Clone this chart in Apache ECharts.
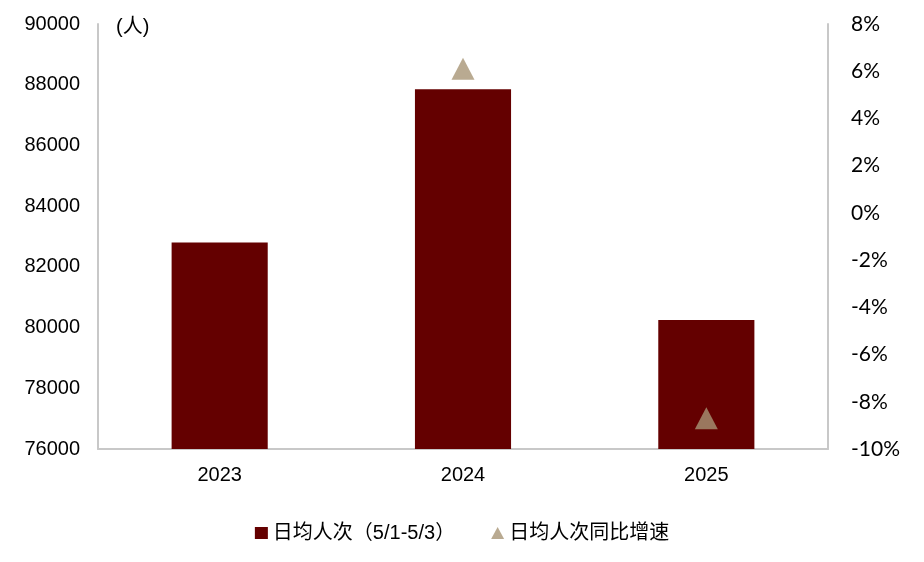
<!DOCTYPE html>
<html><head><meta charset="utf-8">
<script src="https://cdn.jsdelivr.net/npm/echarts@6/dist/echarts.min.js"></script>
<style>html,body{margin:0;padding:0;background:#fff}#c{width:924px;height:562px}</style>
</head><body><div id="c"></div>
<script>
const categories = ['2023', '2024', '2025'];
const dailyVisitors = [82800, 87850, 80250];
const yoyGrowth = [null, 6.1, -8.7];
const leftTicks = [76000, 90000, 2000];
const rightTicks = [-10, 8, 2];

const chart = echarts.init(document.getElementById('c'));
chart.setOption({
  animation: false,
  backgroundColor: '#fff',
  grid: { left: 98, right: 96, top: 24, bottom: 113 },
  legend: {
    bottom: 14, left: 'center', itemGap: 36, itemWidth: 13, itemHeight: 12,
    textStyle: { fontSize: 20, color: '#000', fontFamily: 'Liberation Sans, Noto Sans CJK SC' },
    data: [
      { name: '日均人次（5/1-5/3）', icon: 'rect', itemStyle: { color: '#640000' } },
      { name: '日均人次同比增速', icon: 'triangle' }
    ]
  },
  graphic: [{ type: 'text', left: 116, top: 17, style: { text: '(人)', fontSize: 20, fill: '#000', fontFamily: 'Liberation Sans, Noto Sans CJK SC' } }],
  xAxis: {
    type: 'category', data: categories,
    axisLine: { onZero: false, lineStyle: { color: '#c8c8c8', width: 2 } },
    axisTick: { show: false },
    axisLabel: { fontSize: 20, color: '#000', margin: 16, fontFamily: 'Liberation Sans' }
  },
  yAxis: [
    {
      type: 'value', min: leftTicks[0], max: leftTicks[1], interval: leftTicks[2],
      axisLine: { show: true, lineStyle: { color: '#c8c8c8', width: 2 } },
      axisTick: { show: false }, splitLine: { show: false },
      axisLabel: { fontSize: 20, color: '#000', margin: 18, fontFamily: 'Liberation Sans', formatter: v => String(v) }
    },
    {
      type: 'value', min: rightTicks[0], max: rightTicks[1], interval: rightTicks[2],
      axisLine: { show: true, lineStyle: { color: '#c8c8c8', width: 2 } },
      axisTick: { show: false }, splitLine: { show: false },
      axisLabel: { fontSize: 21, color: '#000', margin: 23, fontFamily: 'Lato', formatter: v => v + '%' }
    }
  ],
  series: [
    {
      name: '日均人次（5/1-5/3）', type: 'bar', data: dailyVisitors, barWidth: '39.5%',
      itemStyle: { color: '#640000' }
    },
    {
      name: '日均人次同比增速', type: 'scatter', yAxisIndex: 1, data: yoyGrowth,
      symbol: 'triangle', symbolSize: [23, 22],
      itemStyle: { color: '#A89576' }
    }
  ]
});
</script></body></html>
